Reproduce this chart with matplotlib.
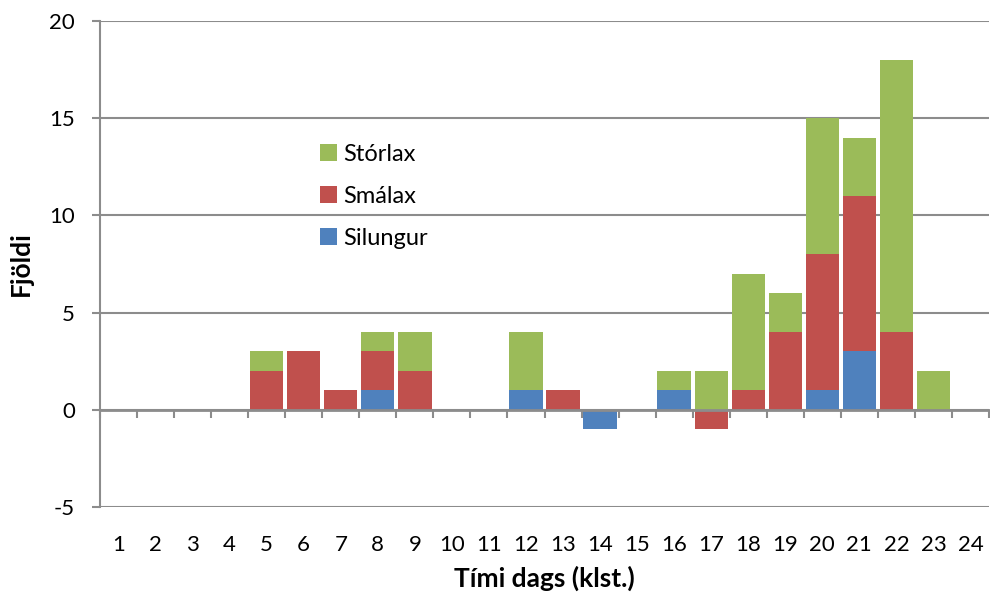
import matplotlib
matplotlib.use("Agg")
import matplotlib.pyplot as plt
import numpy as np
from matplotlib.patches import Patch

hours = list(range(1, 25))
hour_labels = [str(h) for h in hours]
silungur = [0, 0, 0, 0, 0, 0, 0, 1, 0, 0, 0, 1, 0, -1, 0, 1, 0, 0, 0, 1, 3, 0, 0, 0]
smalax   = [0, 0, 0, 0, 2, 3, 1, 2, 2, 0, 0, 0, 1, 0, 0, 0, -1, 1, 4, 7, 8, 4, 0, 0]
storlax  = [0, 0, 0, 0, 1, 0, 0, 1, 2, 0, 0, 3, 0, 0, 0, 1, 2, 6, 2, 7, 3, 14, 2, 0]

series = [("Silungur", silungur, "#4F81BD"),
          ("Smálax", smalax, "#C0504D"),
          ("Stórlax", storlax, "#9BBB59")]

plt.rcParams['font.family'] = ['Lato', 'DejaVu Sans']
plt.rcParams['axes.unicode_minus'] = False
FS = 16
GRID = "#8c8c8c"

fig = plt.figure(figsize=(9.9, 6.02), dpi=100)
ax = fig.add_axes([100/990, 95/602, 889/990, 486/602])

x = np.array(hours)
pos_bottom = np.zeros(len(hours))
neg_bottom = np.zeros(len(hours))
handles = []
for name, vals, col in series:
    v = np.array(vals, dtype=float)
    bottom = np.where(v >= 0, pos_bottom, neg_bottom)
    ax.bar(x, v, width=0.9, bottom=bottom, color=col, edgecolor='none', zorder=2)
    pos_bottom = pos_bottom + np.where(v > 0, v, 0)
    neg_bottom = neg_bottom + np.where(v < 0, v, 0)
    handles.append(Patch(facecolor=col, edgecolor='none', label=name))

ax.set_xlim(0.5, 24.5)
ax.set_ylim(-5, 20)
ax.set_yticks([-5, 0, 5, 10, 15, 20])
ax.yaxis.grid(True, color=GRID, linewidth=1.5, zorder=0)
ax.set_axisbelow(True)

for s in ['top', 'right', 'bottom']:
    ax.spines[s].set_visible(False)
ax.spines['left'].set_color(GRID)
ax.spines['left'].set_linewidth(1.5)
ax.tick_params(axis='y', direction='out', length=6, width=1.5, color=GRID,
               labelsize=FS, pad=12)
ax.set_xticks(x)
ax.set_xticklabels(hour_labels)
ax.tick_params(axis='x', length=0, labelsize=FS, pad=20)

# zero axis with category boundary ticks
sec = ax.secondary_xaxis(0.2)
sec.set_xticks(np.arange(0.5, 25, 1))
sec.tick_params(axis='x', direction='out', length=6, width=1.5, color=GRID,
                labelbottom=False, labeltop=False, labelsize=0)
sec.spines['bottom'].set_color(GRID)
sec.spines['bottom'].set_linewidth(2)
sec.set_zorder(3)

ax.set_xlabel("Tími dags (klst.)", fontsize=19, fontweight='bold', labelpad=8)
ax.set_ylabel("Fjöldi", fontsize=19, fontweight='bold', labelpad=12)

ax.legend(handles=handles[::-1], loc='upper left', bbox_to_anchor=(0.247, 0.7476),
          frameon=False, fontsize=17, handlelength=0.72, handleheight=0.72,
          handletextpad=0.3, labelspacing=0.9, borderpad=0, borderaxespad=0)

fig.savefig("out.png", dpi=100)
